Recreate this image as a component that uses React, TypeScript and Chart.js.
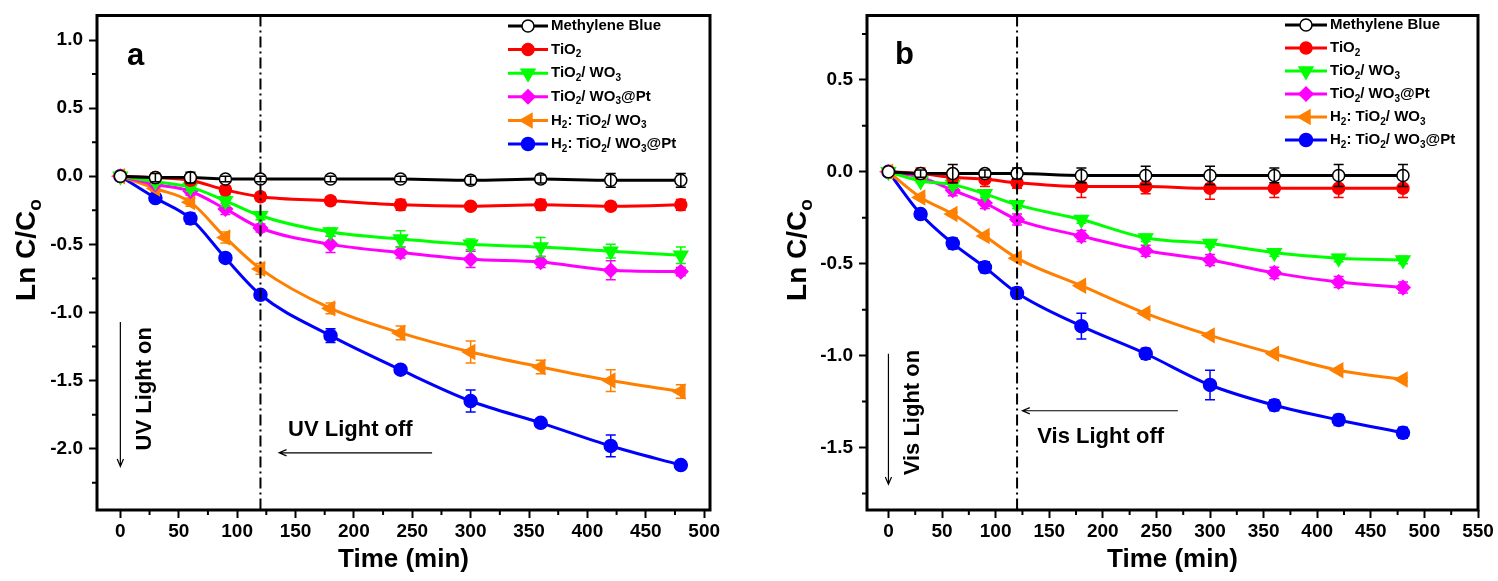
import React, { useEffect, useRef } from "react";
import { Chart, registerables } from "chart.js";

Chart.register(...registerables);

const FONT = '"Liberation Sans", Arial, Helvetica, sans-serif';

// ---------- data ----------
const timeMin = [0, 30, 60, 90, 120, 180, 240, 300, 360, 420, 480];
const seriesLabels = [
  "Methylene Blue",
  "TiO₂",
  "TiO₂/ WO₃",
  "TiO₂/ WO₃@Pt",
  "H₂: TiO₂/ WO₃",
  "H₂: TiO₂/ WO₃@Pt",
];

// Panel a (UV)
const uvMethyleneBlue = [0, -0.01, -0.01, -0.02, -0.02, -0.02, -0.02, -0.03, -0.02, -0.03, -0.03];
const uvTiO2 = [0, -0.01, -0.03, -0.1, -0.15, -0.18, -0.21, -0.22, -0.21, -0.22, -0.21];
const uvTiO2WO3 = [0, -0.04, -0.08, -0.18, -0.29, -0.41, -0.46, -0.5, -0.52, -0.55, -0.58];
const uvTiO2WO3Pt = [0, -0.06, -0.11, -0.24, -0.38, -0.5, -0.56, -0.61, -0.63, -0.69, -0.7];
const uvH2TiO2WO3 = [0, -0.09, -0.19, -0.45, -0.68, -0.97, -1.15, -1.29, -1.4, -1.5, -1.58];
const uvH2TiO2WO3Pt = [0, -0.16, -0.31, -0.6, -0.87, -1.17, -1.42, -1.65, -1.81, -1.98, -2.12];

const uvErrMethyleneBlue = [0, 0.03, 0.04, 0.02, 0.02, 0.02, 0.02, 0.03, 0.03, 0.05, 0.05];
const uvErrTiO2 = [0, 0.02, 0.03, 0.03, 0.03, 0.03, 0.04, 0.02, 0.04, 0.03, 0.04];
const uvErrTiO2WO3 = [0, 0.02, 0.03, 0.04, 0.03, 0.03, 0.06, 0.04, 0.07, 0.05, 0.06];
const uvErrTiO2WO3Pt = [0, 0.02, 0.03, 0.04, 0.03, 0.06, 0.04, 0.06, 0.04, 0.07, 0.03];
const uvErrH2TiO2WO3 = [0, 0.02, 0.03, 0.04, 0.04, 0.04, 0.05, 0.08, 0.05, 0.08, 0.05];
const uvErrH2TiO2WO3Pt = [0, 0.03, 0.04, 0.03, 0.03, 0.05, 0.03, 0.08, 0.03, 0.08, 0.03];

// Panel b (Vis)
const visMethyleneBlue = [0, -0.01, -0.01, -0.01, -0.01, -0.02, -0.02, -0.02, -0.02, -0.02, -0.02];
const visTiO2 = [0, -0.01, -0.03, -0.04, -0.06, -0.08, -0.08, -0.09, -0.09, -0.09, -0.09];
const visTiO2WO3 = [0, -0.05, -0.07, -0.12, -0.18, -0.26, -0.36, -0.39, -0.44, -0.47, -0.48];
const visTiO2WO3Pt = [0, -0.03, -0.1, -0.17, -0.26, -0.35, -0.43, -0.48, -0.55, -0.6, -0.63];
const visH2TiO2WO3 = [0, -0.14, -0.23, -0.35, -0.47, -0.62, -0.77, -0.89, -0.99, -1.08, -1.13];
const visH2TiO2WO3Pt = [0, -0.23, -0.39, -0.52, -0.66, -0.84, -0.99, -1.16, -1.27, -1.35, -1.42];

const visErrMethyleneBlue = [0, 0.02, 0.05, 0.02, 0.03, 0.04, 0.05, 0.05, 0.04, 0.06, 0.06];
const visErrTiO2 = [0, 0.03, 0.03, 0.04, 0.03, 0.06, 0.04, 0.06, 0.05, 0.05, 0.05];
const visErrTiO2WO3 = [0, 0.01, 0.02, 0.02, 0.02, 0.02, 0.02, 0.02, 0.02, 0.02, 0.02];
const visErrTiO2WO3Pt = [0, 0.02, 0.03, 0.03, 0.03, 0.03, 0.03, 0.03, 0.03, 0.03, 0.03];
const visErrH2TiO2WO3 = [0, 0.01, 0.01, 0.01, 0.01, 0.01, 0.01, 0.01, 0.01, 0.01, 0.01];
const visErrH2TiO2WO3Pt = [0, 0.02, 0.03, 0.03, 0.03, 0.07, 0.03, 0.08, 0.03, 0.03, 0.03];

const uvXTicks = [0, 50, 100, 150, 200, 250, 300, 350, 400, 450, 500];
const uvYTicks = [-2.0, -1.5, -1.0, -0.5, 0.0, 0.5, 1.0];
const visXTicks = [0, 50, 100, 150, 200, 250, 300, 350, 400, 450, 500, 550];
const visYTicks = [-1.5, -1.0, -0.5, 0.0, 0.5];

const xTitle = "Time (min)";
const yTitle = "Ln C/Cₒ";
const lightSwitchTime = 120;

// ---------- styles ----------
const seriesStyles = [
  { color: "#000000", fill: "#ffffff", pointStyle: "circle", rotation: 0, radius: 6 },
  { color: "#ff0000", fill: "#ff0000", pointStyle: "circle", rotation: 0, radius: 6 },
  { color: "#00ff00", fill: "#00ff00", pointStyle: "triangle", rotation: 180, radius: 8 },
  { color: "#ff00ff", fill: "#ff00ff", pointStyle: "rectRot", rotation: 0, radius: 7 },
  { color: "#ff8000", fill: "#ff8000", pointStyle: "triangle", rotation: 270, radius: 8 },
  { color: "#0000ff", fill: "#0000ff", pointStyle: "circle", rotation: 0, radius: 6.5 },
];

const SUB: Record<string, string> = { "₂": "2", "₃": "3", "ₒ": "o" };

function drawRich(ctx: CanvasRenderingContext2D, text: string, x: number, y: number, size: number, align: string) {
  const runs: { t: string; sub: boolean }[] = [];
  for (const ch of Array.from(text)) {
    const sub = ch in SUB;
    const c = sub ? SUB[ch] : ch;
    const last = runs[runs.length - 1];
    if (last && last.sub === sub) last.t += c;
    else runs.push({ t: c, sub });
  }
  const nf = `bold ${size}px ${FONT}`;
  const sf = `bold ${Math.round(size * 0.68)}px ${FONT}`;
  let total = 0;
  const widths = runs.map((r) => {
    ctx.font = r.sub ? sf : nf;
    const w = ctx.measureText(r.t).width;
    total += w;
    return w;
  });
  let cx = align === "center" ? x - total / 2 : align === "right" ? x - total : x;
  ctx.textBaseline = "middle";
  ctx.textAlign = "left";
  runs.forEach((r, i) => {
    ctx.font = r.sub ? sf : nf;
    ctx.fillText(r.t, cx, r.sub ? y + size * 0.32 : y);
    cx += widths[i];
  });
}

function drawMarker(ctx: CanvasRenderingContext2D, st: any, x: number, y: number) {
  ctx.beginPath();
  if (st.pointStyle === "circle") {
    ctx.arc(x, y, st.radius, 0, Math.PI * 2);
  } else {
    const n = st.pointStyle === "triangle" ? 3 : 4;
    const rot = (st.rotation * Math.PI) / 180;
    for (let i = 0; i < n; i++) {
      const a = rot + (i * 2 * Math.PI) / n;
      const px = x + Math.sin(a) * st.radius;
      const py = y - Math.cos(a) * st.radius;
      if (i === 0) ctx.moveTo(px, py);
      else ctx.lineTo(px, py);
    }
    ctx.closePath();
  }
  ctx.fillStyle = st.fill;
  ctx.strokeStyle = st.color;
  ctx.lineWidth = 1.5;
  ctx.fill();
  ctx.stroke();
}

function arrow(ctx: CanvasRenderingContext2D, x1: number, y1: number, x2: number, y2: number) {
  ctx.save();
  ctx.strokeStyle = "#000";
  ctx.lineWidth = 1.2;
  ctx.beginPath();
  ctx.moveTo(x1, y1);
  ctx.lineTo(x2, y2);
  const ang = Math.atan2(y2 - y1, x2 - x1);
  const h = 8;
  ctx.moveTo(x2 - h * Math.cos(ang - 0.4), y2 - h * Math.sin(ang - 0.4));
  ctx.lineTo(x2, y2);
  ctx.lineTo(x2 - h * Math.cos(ang + 0.4), y2 - h * Math.sin(ang + 0.4));
  ctx.stroke();
  ctx.restore();
}

const errorBarPlugin = {
  id: "errorBars",
  afterDatasetDraw(chart: any, args: any) {
    const ds = chart.data.datasets[args.index];
    const errs: number[] = ds.errors || [];
    const ys = chart.scales.y;
    const ctx = chart.ctx;
    ctx.save();
    ctx.strokeStyle = ds.borderColor;
    ctx.lineWidth = 1.5;
    args.meta.data.forEach((pt: any, i: number) => {
      const e = errs[i];
      if (!e) return;
      const v = ds.data[i].y;
      const yt = ys.getPixelForValue(v + e);
      const yb = ys.getPixelForValue(v - e);
      ctx.beginPath();
      ctx.moveTo(pt.x, yt);
      ctx.lineTo(pt.x, yb);
      ctx.moveTo(pt.x - 5, yt);
      ctx.lineTo(pt.x + 5, yt);
      ctx.moveTo(pt.x - 5, yb);
      ctx.lineTo(pt.x + 5, yb);
      ctx.stroke();
    });
    ctx.restore();
  },
};

const decorPlugin = {
  id: "decor",
  afterDatasetsDraw(chart: any, _args: any, opts: any) {
    const ctx = chart.ctx;
    const { left, right, top, bottom } = chart.chartArea;
    const xs = chart.scales.x;
    const ys = chart.scales.y;
    ctx.save();
    // dash-dot line
    const lx = xs.getPixelForValue(lightSwitchTime);
    ctx.strokeStyle = "#000";
    ctx.lineWidth = 2;
    ctx.setLineDash([11, 4, 2, 4]);
    ctx.beginPath();
    ctx.moveTo(lx, top);
    ctx.lineTo(lx, bottom);
    ctx.stroke();
    ctx.setLineDash([]);

    // frame
    ctx.lineWidth = 3;
    ctx.strokeRect(left, top, right - left, bottom - top);

    // minor ticks
    ctx.lineWidth = 2;
    ctx.beginPath();
    for (let v = Math.ceil(xs.min / 25) * 25; v <= xs.max; v += 25) {
      if (v % 50 === 0) continue;
      const px = xs.getPixelForValue(v);
      ctx.moveTo(px, bottom);
      ctx.lineTo(px, bottom + 5);
    }
    for (let v = Math.ceil(ys.min / 0.25) * 0.25; v <= ys.max + 1e-9; v += 0.25) {
      if (Math.abs(Math.round(v * 2) - v * 2) < 1e-6) continue;
      const py = ys.getPixelForValue(v);
      ctx.moveTo(left, py);
      ctx.lineTo(left - 5, py);
    }
    ctx.stroke();

    // axis titles
    ctx.fillStyle = "#000";
    drawRich(ctx, xTitle, (left + right) / 2, 560, 26, "center");
    ctx.save();
    ctx.translate(opts.yTitleX, opts.yTitleY);
    ctx.rotate(-Math.PI / 2);
    drawRich(ctx, yTitle, 0, 0, 28, "center");
    ctx.restore();

    // panel letter
    drawRich(ctx, opts.letter.text, xs.getPixelForValue(opts.letter.x), ys.getPixelForValue(opts.letter.y), 31, "center");

    // light on
    const on = opts.lightOn;
    arrow(ctx, xs.getPixelForValue(on.arrowX), ys.getPixelForValue(on.arrowY1), xs.getPixelForValue(on.arrowX), ys.getPixelForValue(on.arrowY2));
    ctx.save();
    ctx.translate(xs.getPixelForValue(on.x), ys.getPixelForValue(on.y));
    ctx.rotate(-Math.PI / 2);
    drawRich(ctx, on.text, 0, 0, 22, "center");
    ctx.restore();

    // light off
    const off = opts.lightOff;
    arrow(ctx, xs.getPixelForValue(off.arrowX1), ys.getPixelForValue(off.arrowY), xs.getPixelForValue(off.arrowX2), ys.getPixelForValue(off.arrowY));
    drawRich(ctx, off.text, xs.getPixelForValue(off.x), ys.getPixelForValue(off.y), 22, "center");

    // legend
    const lg = opts.legend;
    seriesLabels.forEach((label, i) => {
      const st = seriesStyles[i];
      const y = lg.y0 + i * lg.dy;
      ctx.strokeStyle = st.color;
      ctx.lineWidth = 3;
      ctx.beginPath();
      ctx.moveTo(lg.x0, y);
      ctx.lineTo(lg.x1, y);
      ctx.stroke();
      drawMarker(ctx, st, (lg.x0 + lg.x1) / 2, y);
      ctx.fillStyle = "#000";
      drawRich(ctx, label, lg.textX, y, 15, "left");
    });
    ctx.restore();
  },
};

function buildConfig(p: any) {
  const datasets = p.series.map((vals: number[], i: number) => {
    const st = seriesStyles[i];
    return {
      label: seriesLabels[i],
      data: timeMin.map((t, j) => ({ x: t, y: vals[j] })),
      errors: p.errors[i],
      borderColor: st.color,
      backgroundColor: st.fill,
      pointBackgroundColor: st.fill,
      pointBorderColor: st.color,
      pointBorderWidth: 1.5,
      pointStyle: st.pointStyle,
      pointRotation: st.rotation,
      pointRadius: st.radius,
      borderWidth: 3,
      cubicInterpolationMode: "monotone",
      fill: false,
    };
  });
  const tickFont = { family: FONT, size: 19, weight: "bold", lineHeight: 1.0 };
  return {
    type: "line",
    data: { datasets },
    plugins: [errorBarPlugin, decorPlugin],
    options: {
      animation: false,
      responsive: false,
      events: [],
      layout: { padding: { left: 0, top: 10, right: p.padRight, bottom: 0 } },
      plugins: {
        legend: { display: false },
        tooltip: { enabled: false },
        decor: p.decor,
      },
      scales: {
        x: {
          type: "linear",
          min: p.xMin,
          max: p.xMax,
          afterBuildTicks: (s: any) => {
            s.ticks = p.xTicks.map((v: number) => ({ value: v }));
          },
          afterFit: (s: any) => {
            s.height = 71;
          },
          ticks: {
            autoSkip: false,
            maxRotation: 0,
            padding: 4,
            color: "#000",
            font: tickFont,
            callback: (v: number) => String(v),
          },
          grid: { drawOnChartArea: false, drawTicks: true, tickLength: 8, tickWidth: 2, tickColor: "#000" },
          border: { display: false },
        },
        y: {
          type: "linear",
          min: p.yMin,
          max: p.yMax,
          afterBuildTicks: (s: any) => {
            s.ticks = p.yTicks.map((v: number) => ({ value: v }));
          },
          afterFit: (s: any) => {
            s.width = 97;
          },
          ticks: {
            autoSkip: false,
            padding: 6,
            color: "#000",
            font: tickFont,
            callback: (v: number) => Number(v).toFixed(1),
          },
          grid: { drawOnChartArea: false, drawTicks: true, tickLength: 8, tickWidth: 2, tickColor: "#000" },
          border: { display: false },
        },
      },
    },
  };
}

const panelA = {
  series: [uvMethyleneBlue, uvTiO2, uvTiO2WO3, uvTiO2WO3Pt, uvH2TiO2WO3, uvH2TiO2WO3Pt],
  errors: [uvErrMethyleneBlue, uvErrTiO2, uvErrTiO2WO3, uvErrTiO2WO3Pt, uvErrH2TiO2WO3, uvErrH2TiO2WO3Pt],
  xMin: -20,
  xMax: 505,
  yMin: -2.45,
  yMax: 1.18,
  xTicks: uvXTicks,
  yTicks: uvYTicks,
  padRight: 60,
  decor: {
    yTitleX: 27,
    yTitleY: 250,
    letter: { text: "a", x: 13, y: 0.88 },
    lightOn: { text: "UV Light on", x: 21, y: -1.56, arrowX: 0, arrowY1: -1.07, arrowY2: -2.13 },
    lightOff: { text: "UV Light off", x: 197, y: -1.86, arrowX1: 267, arrowX2: 136, arrowY: -2.03 },
    legend: { x0: 508, x1: 548, textX: 551, y0: 26, dy: 23.6 },
  },
};

const panelB = {
  series: [visMethyleneBlue, visTiO2, visTiO2WO3, visTiO2WO3Pt, visH2TiO2WO3, visH2TiO2WO3Pt],
  errors: [visErrMethyleneBlue, visErrTiO2, visErrTiO2WO3, visErrTiO2WO3Pt, visErrH2TiO2WO3, visErrH2TiO2WO3Pt],
  xMin: -20,
  xMax: 550,
  yMin: -1.84,
  yMax: 0.85,
  xTicks: visXTicks,
  yTicks: visYTicks,
  padRight: 20,
  decor: {
    yTitleX: 28,
    yTitleY: 250,
    letter: { text: "b", x: 15, y: 0.63 },
    lightOn: { text: "Vis Light on", x: 23, y: -1.31, arrowX: 0, arrowY1: -0.99, arrowY2: -1.7 },
    lightOff: { text: "Vis Light off", x: 198, y: -1.44, arrowX1: 270, arrowX2: 125, arrowY: -1.3 },
    legend: { x0: 515, x1: 557, textX: 560, y0: 25, dy: 23 },
  },
};

function Panel({ width, panel }: { width: number; panel: any }) {
  const ref = useRef<HTMLCanvasElement | null>(null);
  useEffect(() => {
    if (!ref.current) return;
    const chart = new Chart(ref.current, buildConfig(panel) as any);
    return () => chart.destroy();
  }, [panel]);
  return <canvas ref={ref} width={width} height={581} style={{ display: "block", width, height: 581 }} />;
}

export default function App() {
  return (
    <div style={{ position: "absolute", left: 0, top: 0, width: 1498, height: 581, display: "flex", background: "#fff" }}>
      <Panel width={770} panel={panelA} />
      <Panel width={728} panel={panelB} />
    </div>
  );
}
